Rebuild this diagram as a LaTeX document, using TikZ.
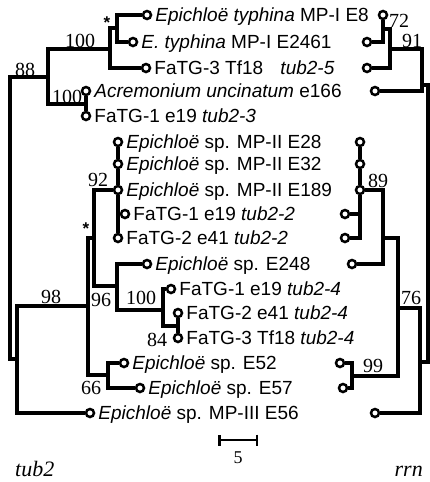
\documentclass[tikz,border=0pt]{standalone}
\usepackage{fontspec}
\setmainfont{Liberation Serif}
\setsansfont{Liberation Sans}
\usetikzlibrary{arrows.meta,positioning}

\begin{document}
\begin{tikzpicture}[x=1pt,y=-1pt,
  tip/.style={circle,draw,fill=white,line width=2.5pt,minimum size=8pt,inner sep=0pt},
  taxon/.style={font=\sffamily\fontsize{19}{22}\selectfont,inner sep=0pt,text height=13.5pt,text depth=0pt},
  boot/.style={font=\fontsize{20}{22}\selectfont,inner sep=0pt},
  star/.style={font=\sffamily\bfseries\fontsize{17}{17}\selectfont,inner sep=0pt},
  branch/.style={line width=3.4pt},
  gene/.style={font=\itshape\fontsize{22}{24}\selectfont,inner sep=0pt}]
  \useasboundingbox (0,0) rectangle (430,482);

  % tub2 tree: tips
  \node[tip] (L1) at (147,15) {};
  \node[tip] (L2) at (133,42) {};
  \node[tip] (L3) at (146,68) {};
  \node[tip] (L4) at (86,91) {};
  \node[tip] (L5) at (86,116) {};
  \node[tip] (L6) at (118,142) {};
  \node[tip] (L7) at (118,164) {};
  \node[tip] (L8) at (118,190) {};
  \node[tip] (L9) at (125,214) {};
  \node[tip] (L10) at (118,238) {};
  \node[tip] (L11) at (147,264) {};
  \node[tip] (L12) at (171,289) {};
  \node[tip] (L13) at (178,313) {};
  \node[tip] (L14) at (178,338) {};
  \node[tip] (L15) at (124,363) {};
  \node[tip] (L16) at (140,388) {};
  \node[tip] (L17) at (90,413) {};

  % taxon names
  \node[taxon,right=3pt of L1] (t1) {\textit{Epichloë typhina} MP-I E8};
  \node[taxon,right=3pt of L2] (t2) {\textit{E. typhina} MP-I E2461};
  \node[taxon,right=3pt of L3] (t3) {FaTG-3 Tf18\hspace{12pt} \textit{tub2-5}};
  \node[taxon,right=3pt of L4] (t4) {\textit{Acremonium uncinatum} e166};
  \node[taxon,right=3pt of L5] (t5) {FaTG-1 e19 \textit{tub2-3}};
  \node[taxon,right=3pt of L6] (t6) {\textit{Epichloë} sp. MP-II E28};
  \node[taxon,right=3pt of L7] (t7) {\textit{Epichloë} sp. MP-II E32};
  \node[taxon,right=3pt of L8] (t8) {\textit{Epichloë} sp. MP-II E189};
  \node[taxon,right=3pt of L9] (t9) {FaTG-1 e19 \textit{tub2-2}};
  \node[taxon,right=3pt of L10] (t10) {FaTG-2 e41 \textit{tub2-2}};
  \node[taxon,right=3pt of L11] (t11) {\textit{Epichloë} sp. E248};
  \node[taxon,right=3pt of L12] (t12) {FaTG-1 e19 \textit{tub2-4}};
  \node[taxon,right=3pt of L13] (t13) {FaTG-2 e41 \textit{tub2-4}};
  \node[taxon,right=3pt of L14] (t14) {FaTG-3 Tf18 \textit{tub2-4}};
  \node[taxon,right=3pt of L15] (t15) {\textit{Epichloë} sp. E52};
  \node[taxon,right=3pt of L16] (t16) {\textit{Epichloë} sp. E57};
  \node[taxon,right=3pt of L17] (t17) {\textit{Epichloë} sp. MP-III E56};

  % tub2 tree: inner nodes
  \coordinate (aStar) at (117,28);
  \coordinate (aT100) at (110,49);
  \coordinate (aB100) at (86,104);
  \coordinate (a88) at (48,77);
  \coordinate (aRoot) at (10,218);
  \coordinate (aX) at (17,359);
  \coordinate (b98) at (88,306);
  \coordinate (bStar) at (94,238);
  \coordinate (b96) at (117,286);
  \coordinate (b100) at (163,310);
  \coordinate (b84) at (178,326);
  \coordinate (b66) at (108,375);

  \draw[branch] (L1) -| (aStar) |- (L2);
  \draw[branch] (aStar) -| (aT100) |- (L3);
  \draw[branch] (L4) -- (L5);
  \draw[branch] (aT100) -| (a88) |- (aB100);
  \draw[branch] (a88) -| (aRoot) |- (aX);
  \draw[branch] (b98) -| (aX) |- (L17);
  \draw[branch] (L6) -- (L7);
  \draw[branch] (L7) -- (L8);
  \draw[branch] (L8) -- (L10);
  \draw[branch] (L9) -- (L9 -| L8);
  \draw[branch] (L8) -| (bStar) |- (b96);
  \draw[branch] (bStar) -| (b98) |- (b66);
  \draw[branch] (L11) -| (b96) |- (b100);
  \draw[branch] (L12) -| (b100) |- (b84);
  \draw[branch] (L13) -- (L14);
  \draw[branch] (L15) -| (b66) |- (L16);

  % support values, tub2
  \node[star] (s1) at (107,23) {*};
  \node[boot] (v1) at (80,41) {100};
  \node[boot] (v2) at (25,70) {88};
  \node[boot] (v3) at (67,97) {100};
  \node[boot] (v4) at (98,180) {92};
  \node[star] (s2) at (86,229) {*};
  \node[boot] (v5) at (51,297) {98};
  \node[boot] (v6) at (101,300) {96};
  \node[boot] (v7) at (141,298) {100};
  \node[boot] (v8) at (157,340) {84};
  \node[boot] (v9) at (91,388) {66};

  % rrn tree: tips
  \node[tip] (R1) at (383,15) {};
  \node[tip] (R2) at (367,42) {};
  \node[tip] (R3) at (367,68) {};
  \node[tip] (R4) at (375,91) {};
  \node[tip] (R6) at (360,142) {};
  \node[tip] (R7) at (360,164) {};
  \node[tip] (R8) at (360,190) {};
  \node[tip] (R9) at (345,214) {};
  \node[tip] (R10) at (345,238) {};
  \node[tip] (R11) at (352,264) {};
  \node[tip] (R15) at (340,363) {};
  \node[tip] (R16) at (343,388) {};
  \node[tip] (R17) at (375,413) {};

  % rrn tree: inner nodes
  \coordinate (r72) at (383,29);
  \coordinate (rA) at (390,49);
  \coordinate (r91) at (422,85);
  \coordinate (rRoot) at (428,224);
  \coordinate (rY) at (420,362);
  \coordinate (r76) at (398,308);
  \coordinate (r89) at (383,238);
  \coordinate (r99) at (352,376);

  \draw[branch] (R1) |- (R2);
  \draw[branch] (r72) -| (rA) |- (R3);
  \draw[branch] (rA) -| (r91) |- (R4);
  \draw[branch] (r91) -| (rRoot) |- (rY);
  \draw[branch] (r76) -| (rY) |- (R17);
  \draw[branch] (R6) -- (R7);
  \draw[branch] (R7) -- (R8);
  \draw[branch] (R8) |- (R10);
  \draw[branch] (R9) -- (R9 -| R8);
  \draw[branch] (R8) -| (r89) |- (R11);
  \draw[branch] (r89) -| (r76) |- (r99);
  \draw[branch] (R15) -| (r99) |- (R16);

  % support values, rrn
  \node[boot] (w1) at (399,21) {72};
  \node[boot] (w2) at (412,41) {91};
  \node[boot] (w3) at (378,181) {89};
  \node[boot] (w4) at (411,298) {76};
  \node[boot] (w5) at (373,366) {99};

  % scale bar and gene names
  \coordinate (sbL) at (218,440);
  \coordinate (sbR) at (258,440);
  \draw[line width=2.5pt,{Bar[width=11pt]}-{Bar[width=11pt]}] (sbL) -- (sbR);
  \node[boot,font=\fontsize{18}{20}\selectfont] (sbT) at (238,458) {5};
  \node[gene,anchor=base west] (g1) at (15,476) {tub2};
  \node[gene,anchor=base east] (g2) at (423,476) {rrn};
\end{tikzpicture}
\end{document}
